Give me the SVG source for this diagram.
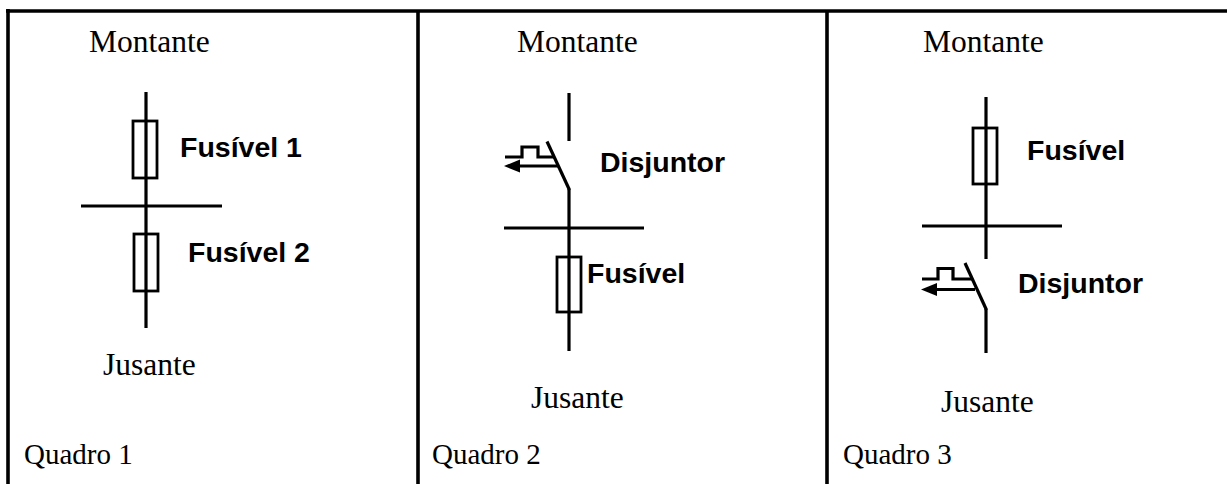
<svg xmlns="http://www.w3.org/2000/svg" width="1227" height="484" viewBox="0 0 1227 484">
<defs>
<style>
.frame{stroke:#000;stroke-width:3.6;fill:none}
.wire{stroke:#000;stroke-width:3.2;fill:none}
.fuse{stroke:#000;stroke-width:2.8;fill:#fff}
.serif{font-family:"Liberation Serif","Times New Roman",serif;font-size:31.5px;fill:#000}
.quadro{font-family:"Liberation Serif","Times New Roman",serif;font-size:29px;fill:#000}
.lbl{font-family:"Liberation Sans",Arial,sans-serif;font-size:28.5px;font-weight:bold;fill:#000}
</style>
</defs>
<rect width="1227" height="484" fill="#fff"/>
<g id="frame">
<line class="frame" x1="6" y1="11" x2="1227" y2="11"/>
<line class="frame" x1="8" y1="9" x2="8" y2="484"/>
<line class="frame" x1="418" y1="11" x2="418" y2="484"/>
<line class="frame" x1="827" y1="11" x2="827" y2="484"/>
</g>
<g id="connectors">
<line class="wire" x1="146" y1="92" x2="146" y2="328"/>
<line class="wire" x1="81" y1="206" x2="222" y2="206"/>
<line class="wire" x1="569" y1="93" x2="569" y2="141"/>
<line class="wire" x1="569" y1="189" x2="569" y2="351"/>
<line class="wire" x1="504" y1="228" x2="644" y2="228"/>
<line class="wire" x1="986" y1="97" x2="986" y2="259"/>
<line class="wire" x1="922" y1="226" x2="1062" y2="226"/>
<line class="wire" x1="986" y1="309" x2="986" y2="353"/>
</g>
<g id="panel1">
<text class="serif" x="89" y="52">Montante</text>
<g id="fuse1"><rect class="fuse" x="133" y="121" width="24" height="57"/><line class="wire" x1="146" y1="121" x2="146" y2="178"/></g>
<text class="lbl" x="180" y="157">Fusível 1</text>
<g id="fuse2"><rect class="fuse" x="134" y="234" width="24" height="57"/><line class="wire" x1="146" y1="234" x2="146" y2="291"/></g>
<text class="lbl" x="188" y="262">Fusível 2</text>
<text class="serif" x="103" y="375">Jusante</text>
<text class="quadro" x="24" y="464">Quadro 1</text>
</g>
<g id="panel2">
<text class="serif" x="517" y="52">Montante</text>
<g id="breaker2">
<line class="wire" x1="547" y1="141.5" x2="569.5" y2="190"/>
<polyline class="wire" points="505,157 522,157 522,147 538,147 538,157 554,157"/>
<line class="wire" x1="516" y1="166" x2="558" y2="166"/>
<polygon points="504,166 520,159.5 520,172.5" fill="#000"/>
</g>
<text class="lbl" x="600" y="172">Disjuntor</text>
<g id="fuse3"><rect class="fuse" x="557" y="257" width="24" height="55"/><line class="wire" x1="569" y1="257" x2="569" y2="312"/></g>
<text class="lbl" x="587" y="283">Fusível</text>
<text class="serif" x="531" y="408">Jusante</text>
<text class="quadro" x="432" y="464">Quadro 2</text>
</g>
<g id="panel3">
<text class="serif" x="923" y="52">Montante</text>
<g id="fuse4"><rect class="fuse" x="973" y="128" width="24" height="56"/><line class="wire" x1="986" y1="128" x2="986" y2="184"/></g>
<text class="lbl" x="1027" y="160">Fusível</text>
<g id="breaker3">
<line class="wire" x1="965" y1="263" x2="986.5" y2="310"/>
<polyline class="wire" points="922,279 938,279 938,268.5 953,268.5 953,279 972,279"/>
<line class="wire" x1="933" y1="289.5" x2="975" y2="289.5"/>
<polygon points="921,289.5 937,283 937,296" fill="#000"/>
</g>
<text class="lbl" x="1018" y="293">Disjuntor</text>
<text class="serif" x="941" y="412">Jusante</text>
<text class="quadro" x="843" y="464">Quadro 3</text>
</g>
</svg>
